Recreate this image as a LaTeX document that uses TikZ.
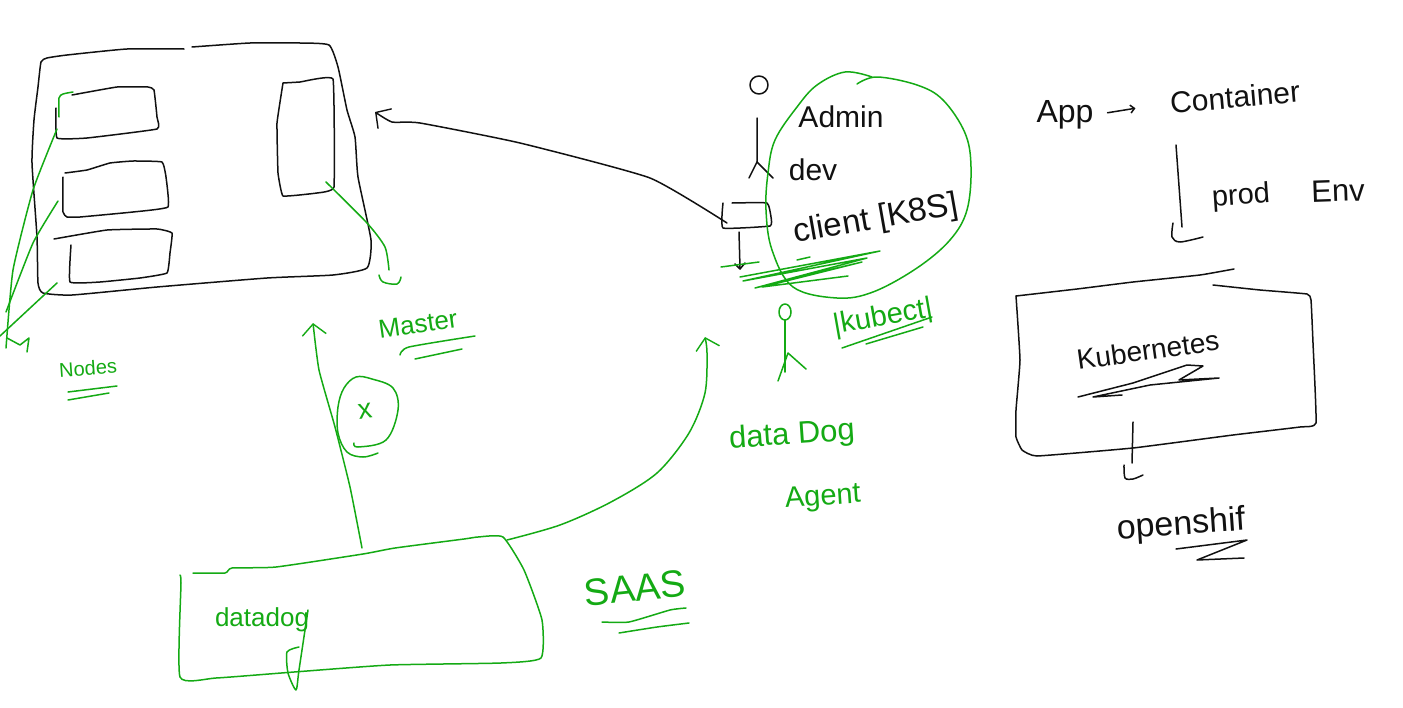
\documentclass[tikz,border=0pt]{standalone}
\usepackage{fontspec}
\usepackage{xcolor}
\usepackage{tikz}
\usetikzlibrary{arrows.meta}
\setmainfont{Liberation Sans}
\definecolor{SketchInk}{HTML}{111111}
\definecolor{SketchGreen}{HTML}{14AA14}

\begin{document}
\begin{tikzpicture}[
  x=1pt,y=-1pt,
  ink/.style={draw=SketchInk,line width=1.5pt,line cap=round,line join=round},
  leaf/.style={draw=SketchGreen,line width=1.5pt,line cap=round,line join=round},
  inktext/.style={text=SketchInk,inner sep=0pt,font=\fontsize{#1}{#1}\selectfont},
  leaftext/.style={text=SketchGreen,inner sep=0pt,font=\fontsize{#1}{#1}\selectfont},
  barb/.style={-{Straight Barb[length=11pt,width=24pt,line width=1.4pt]}}
]
\useasboundingbox (0,0) rectangle (1403,707);
\fill[white] (0,0) rectangle (1403,707);

% cluster
\draw[ink] plot[smooth,tension=.3] coordinates {(184,49) (127,49) (67,55) (47,58) (41,62) (38,87) (34,120) (32,163) (37,237) (38,283) (43,293) (72,295) (157,287) (267,278) (333,275) (367,268) (371,240) (358,177) (355,137) (347,110) (338,67) (329,45) (300,43) (250,43) (192,47)};
\draw[ink] plot[smooth,tension=.2] coordinates {(56,108) (57,138) (87,138) (157,129) (157,117) (154,90) (148,87) (117,87) (72,95)};
\draw[leaf] plot[smooth,tension=.4] coordinates {(59,117) (59,98) (63,94) (73,92)};
\draw[ink] plot[smooth,tension=.2] coordinates {(65,173) (87,170) (110,163) (133,161) (162,162) (166,177) (168,207) (133,212) (80,217) (67,217) (63,212) (63,177)};
\draw[ink] plot[smooth,tension=.2] coordinates {(54,239) (107,230) (157,229) (172,233) (170,253) (167,273) (140,278) (100,282) (70,282) (71,245)};
\draw[ink] plot[smooth,tension=.15] coordinates {(283,83) (300,82) (333,79) (334,187) (317,193) (283,196) (278,173) (277,123) (283,83)};

\coordinate (masterbox) at (326,182);
\coordinate (masterend) at (389,270);
\draw[leaf] plot[smooth,tension=.4] coordinates {(masterbox) (367,223) (385,247) (masterend)};
\draw[leaf] plot[smooth,tension=.6] coordinates {(379,275) (383,282) (397,284) (401,277)};

\coordinate (nodeone) at (57,129);
\coordinate (nodetwo) at (58,201);
\coordinate (nodethree) at (57,283);
\coordinate (nodesend) at (6,348);
\draw[leaf] plot[smooth,tension=.3] coordinates {(nodeone) (33,190) (13,270) (nodesend)};
\draw[leaf] plot[smooth,tension=.3] coordinates {(nodetwo) (33,243) (6,312)};
\draw[leaf] (nodethree) -- (0,336);
\draw[leaf] (7,338) -- (20,345) -- (29,338) -- (27,352);

\node[leaftext=20,rotate=4] (nodes) at (88,368) {Nodes};
\draw[leaf] (68,392) -- (117,386);
\draw[leaf] (68,400) -- (109,393);
\node[leaftext=26,rotate=8] (master) at (418,324) {Master};
\draw[leaf] plot[smooth,tension=.4] coordinates {(400,355) (409,347) (475,336)};
\draw[leaf] (415,359) -- (462,349);

% users on the client side
\draw[ink] (759,85) circle[radius=9];
\draw[ink] (757,118) -- (757,162) -- (749,178);
\draw[ink] (757,162) -- (773,178);
\draw[ink] plot[smooth,tension=.2] coordinates {(732,203) (767,203) (771,217) (770,226) (723,228) (723,203)};
\draw[ink] (739,232) -- (740,268);
\draw[ink] (735,264) -- (740,269) -- (745,263);
\draw[leaf] (721,267) -- (759,262);

\coordinate (clientbox) at (727,223);
\coordinate (clusteredge) at (375,112);
\draw[ink,barb] plot[smooth,tension=.3] coordinates {(clientbox) (650,178) (520,143) (420,123) (392,122) (clusteredge)};

\draw[leaf] plot[smooth,tension=.6] coordinates {(872,77) (845,72) (817,85) (797,107) (775,140) (768,173) (766,210) (772,250) (793,287) (837,298) (873,292) (917,268) (950,240) (967,210) (971,167) (965,133) (943,100) (917,85) (877,77) (857,84)};

\node[inktext=30] (admin) at (841,117) {Admin};
\node[inktext=30] (dev) at (813,170) {dev};
\node[inktext=33,rotate=10] (client) at (876,220) {client [K8S]};
\draw[leaf] (797,260) -- (810,257);
\draw[leaf] (740,277) -- (880,251) -- (743,281) -- (867,258) -- (755,288) -- (862,262) -- (762,287) -- (848,276);

\draw[leaf] (785,312) ellipse[x radius=6,y radius=8];
\draw[leaf] (785,320) -- (785,372);
\draw[leaf] (778,381) -- (788,353) -- (806,369);
\node[leaftext=29,rotate=10] (kubect) at (883,318) {|kubect|};
\draw[leaf] (842,348) -- (932,317);
\draw[leaf] (866,344) -- (923,327);
\node[leaftext=31,rotate=4] (datadogagent) at (792,436) {data Dog};
\node[leaftext=29,rotate=4] (agent) at (823,498) {Agent};

% saas box
\draw[leaf] plot[smooth,tension=.3] coordinates {(193,573) (225,573) (232,568) (276,567) (363,554) (395,548) (464,539) (478,537) (503,537) (524,570) (542,620) (541,658) (501,663) (390,665) (294,672) (216,678) (180,677) (181,583) (180,575)};
\node[leaftext=26] (datadog) at (262,620) {datadog};
\draw[leaf] plot[smooth,tension=.4] coordinates {(308,610) (299,670) (296,690) (288,673) (287,652) (299,647)};
\node[leaftext=38,rotate=6] (saas) at (635,588) {SAAS};
\draw[leaf] plot[smooth,tension=.3] coordinates {(602,622) (629,622) (670,610) (686,608)};
\draw[leaf] plot[smooth,tension=.3] coordinates {(619,633) (657,627) (689,623)};

\coordinate (saastop) at (362,548);
\coordinate (clustergap) at (313,323);
\draw[leaf,barb] plot[smooth,tension=.3] coordinates {(saastop) (350,487) (335,427) (319,370) (clustergap)};
\coordinate (saascorner) at (507,540);
\coordinate (agenthead) at (705,337);
\draw[leaf,barb] plot[smooth,tension=.5] coordinates {(saascorner) (560,525) (611,502) (657,473) (689,433) (705,393) (707,353) (agenthead)};

\node[leaftext=28,rotate=8] (cross) at (365,411) {x};
\draw[leaf] plot[smooth,tension=.6] coordinates {(354,443) (358,447) (386,440) (398,410) (393,388) (372,379) (356,377) (344,388) (338,407) (338,433) (347,452) (363,457) (378,453)};

% right side
\node[inktext=32] (app) at (1065,115) {App};
\node[inktext=30,rotate=5] (container) at (1235,97) {Container};
\draw[ink,-{Straight Barb[length=4pt,width=8pt]},shorten <=14pt,shorten >=35pt] (app.east) -- (container.west);
\draw[ink] (1176,145) -- (1182,227);
\draw[ink] plot[smooth,tension=.5] coordinates {(1173,223) (1172,237) (1180,242) (1203,237)};
\node[inktext=29,rotate=4] (prod) at (1241,197) {prod};
\node[inktext=31,rotate=2] (env) at (1338,191) {Env};

\draw[ink] plot[smooth,tension=.2] coordinates {(1016,296) (1077,289) (1133,282) (1200,275) (1234,269)};
\draw[ink] plot[smooth,tension=.2] coordinates {(1213,285) (1260,290) (1307,294) (1311,300) (1313,343) (1316,423) (1300,427) (1233,435) (1133,448) (1037,456) (1022,450) (1016,437) (1016,410) (1020,360) (1016,296)};
\node[inktext=28,rotate=8] (kubernetes) at (1148,350) {Kubernetes};
\draw[ink] (1078,397) -- (1133,383) -- (1187,365) -- (1203,366) -- (1179,380) -- (1219,378) -- (1150,385) -- (1093,397) -- (1122,395);

\coordinate (kubebox) at (1133,422);
\coordinate (openshiftup) at (1132,463);
\draw[ink] (kubebox) -- (openshiftup);
\draw[ink] plot[smooth,tension=.5] coordinates {(1124,465) (1125,478) (1133,479) (1143,475)};
\node[inktext=34,rotate=4] (openshift) at (1181,526) {openshif};
\draw[ink] (1176,549) -- (1247,540) -- (1197,560) -- (1244,558);
\end{tikzpicture}
\end{document}
